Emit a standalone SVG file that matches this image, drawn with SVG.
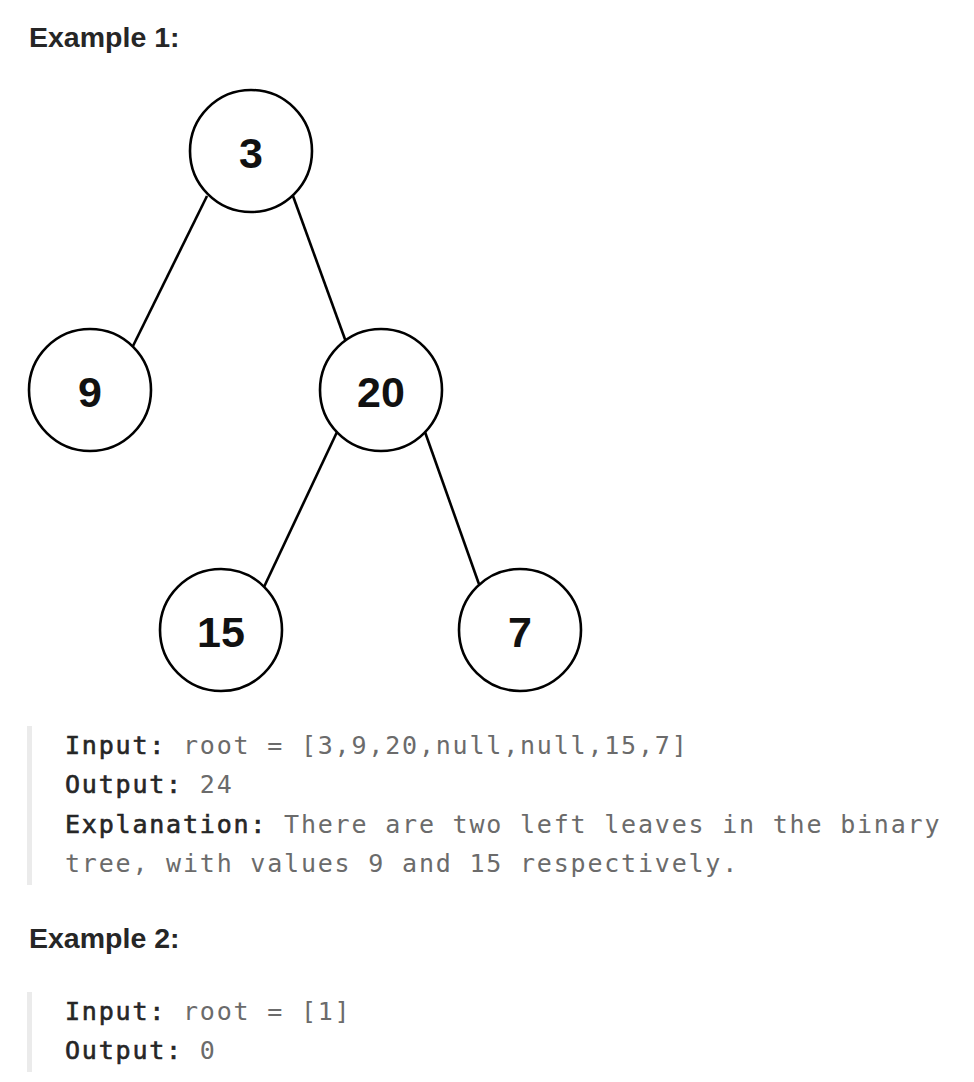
<svg xmlns="http://www.w3.org/2000/svg" width="974" height="1082" viewBox="0 0 974 1082">
  <style>
    .heading { font-family: "Liberation Sans", Arial, sans-serif; font-weight: bold; font-size: 28.5px; fill: #262626; }
    .node circle { fill: #ffffff; stroke: #000000; stroke-width: 2.6; }
    .node text { font-family: "Liberation Sans", Arial, sans-serif; font-weight: bold; font-size: 43px; fill: #111111; text-anchor: middle; }
    .edges line { stroke: #000000; stroke-width: 2.6; }
    .code { font-family: "DejaVu Sans Mono", "Liberation Mono", monospace; font-size: 25px; letter-spacing: 1.8px; fill: #6b6b6b; }
    .code .key { fill: #262626; stroke: #262626; stroke-width: 0.6px; }
    .bar { fill: #ebebeb; }
  </style>
  <rect width="974" height="1082" fill="#ffffff"/>

  <text class="heading" x="29" y="47">Example 1:</text>

  <g class="edges" id="edges">
    <line x1="207" y1="196" x2="133" y2="346"/>
    <line x1="293" y1="196" x2="346" y2="342"/>
    <line x1="337" y1="432" x2="264" y2="587"/>
    <line x1="425" y1="432" x2="480" y2="587"/>
  </g>

  <g class="node" id="node-3">
    <circle cx="251" cy="151" r="61"/>
    <text x="251" y="168">3</text>
  </g>
  <g class="node" id="node-9">
    <circle cx="90" cy="390" r="61"/>
    <text x="90" y="407">9</text>
  </g>
  <g class="node" id="node-20">
    <circle cx="381" cy="390" r="61"/>
    <text x="381" y="407">20</text>
  </g>
  <g class="node" id="node-15">
    <circle cx="221" cy="630" r="61"/>
    <text x="221" y="647">15</text>
  </g>
  <g class="node" id="node-7">
    <circle cx="520" cy="630" r="61"/>
    <text x="520" y="647">7</text>
  </g>

  <rect class="bar" x="27" y="726" width="5" height="159"/>
  <text class="code" x="65" y="754"><tspan class="key">Input:</tspan> root = [3,9,20,null,null,15,7]</text>
  <text class="code" x="65" y="793"><tspan class="key">Output:</tspan> 24</text>
  <text class="code" x="65" y="833"><tspan class="key">Explanation:</tspan> There are two left leaves in the binary</text>
  <text class="code" x="65" y="872">tree, with values 9 and 15 respectively.</text>

  <text class="heading" x="29" y="948">Example 2:</text>

  <rect class="bar" x="27" y="992" width="5" height="80"/>
  <text class="code" x="65" y="1020"><tspan class="key">Input:</tspan> root = [1]</text>
  <text class="code" x="65" y="1059"><tspan class="key">Output:</tspan> 0</text>
</svg>
